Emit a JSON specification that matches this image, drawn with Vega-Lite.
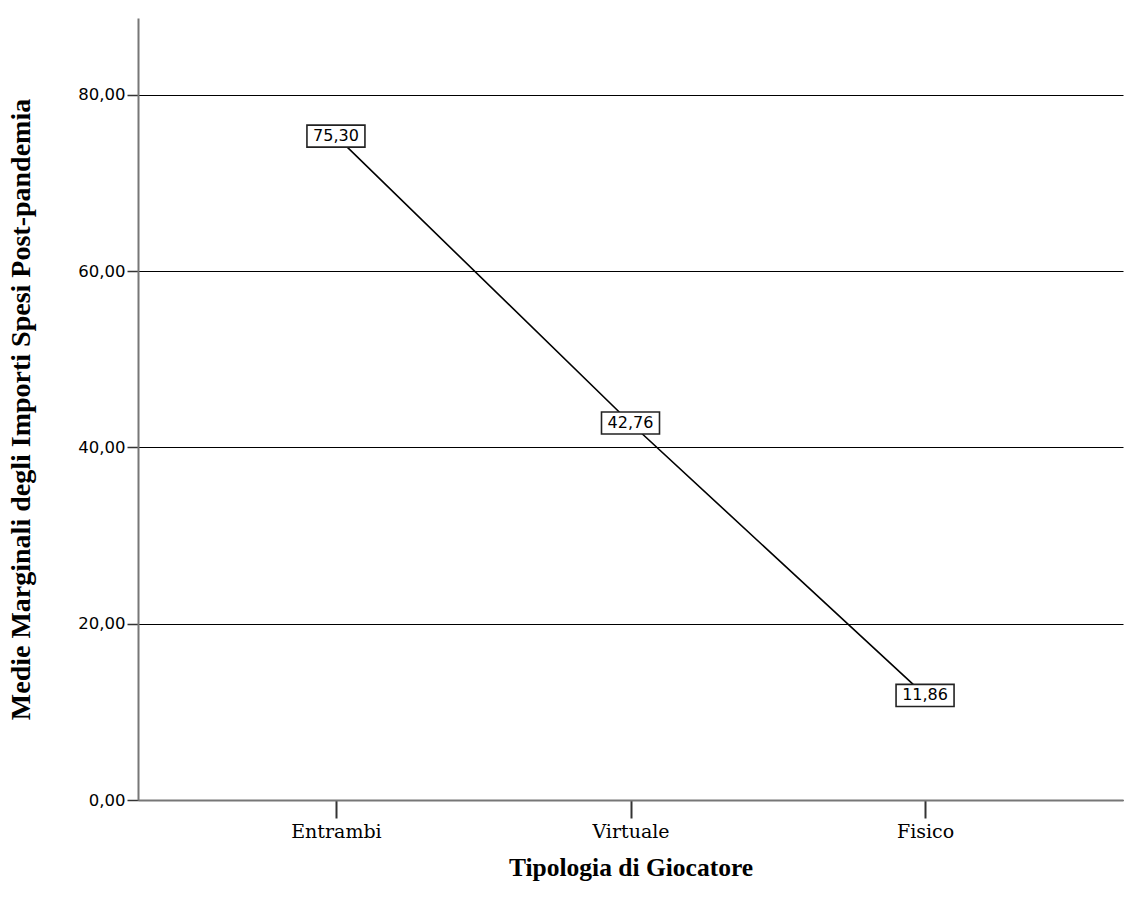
{
  "$schema": "https://vega.github.io/schema/vega-lite/v6.json",
  "width": 985,
  "height": 782,
  "autosize": {"type": "none"},
  "padding": {"left": 138, "top": 18, "right": 10, "bottom": 110},
  "background": "white",
  "config": {
    "locale": {"number": {"decimal": ",", "thousands": ".", "grouping": [3], "currency": ["€", ""]}},
    "view": {"stroke": null},
    "axis": {"labelColor": "#000", "titleColor": "#000", "domainColor": "#777", "tickColor": "#333"}
  },
  "data": {"values": [
    {"tipo": "Entrambi", "media": 75.30},
    {"tipo": "Virtuale", "media": 42.76},
    {"tipo": "Fisico", "media": 11.86}
  ]},
  "encoding": {
    "x": {
      "field": "tipo", "type": "ordinal", "sort": ["Entrambi", "Virtuale", "Fisico"],
      "scale": {"type": "point", "padding": 0.672},
      "axis": {
        "title": "Tipologia di Giocatore", "labelAngle": 0,
        "labelFont": "DejaVu Serif", "labelFontSize": 19, "labelPadding": 4,
        "tickSize": 18, "tickWidth": 2, "domainWidth": 2,
        "titleFont": "Liberation Serif", "titleFontSize": 25.5, "titleFontWeight": "bold", "titlePadding": 14,
        "grid": false
      }
    },
    "y": {
      "field": "media", "type": "quantitative",
      "scale": {"domain": [0, 88.7], "nice": false},
      "axis": {
        "title": "Medie Marginali degli Importi Spesi Post-pandemia",
        "values": [0, 20, 40, 60, 80], "format": ".2f",
        "labelFont": "DejaVu Sans", "labelFontSize": 16.5, "labelPadding": 2,
        "tickSize": 11, "tickWidth": 1.5, "domainWidth": 2,
        "grid": true, "gridColor": "#000", "gridWidth": 1.2,
        "titleFont": "Liberation Serif", "titleFontSize": 28, "titleFontWeight": "bold", "titlePadding": 42
      }
    }
  },
  "layer": [
    {"mark": {"type": "line", "color": "#000", "strokeWidth": 1.6}},
    {"mark": {"type": "point", "shape": "M-1,-0.38H1V0.38H-1Z", "size": 3364, "filled": true, "fill": "white", "stroke": "#222", "strokeWidth": 1.6, "opacity": 1}},
    {"mark": {"type": "text", "font": "DejaVu Sans", "fontSize": 16, "color": "#000", "baseline": "middle", "align": "center"},
     "encoding": {"text": {"field": "media", "type": "quantitative", "format": ".2f"}}}
  ]
}
